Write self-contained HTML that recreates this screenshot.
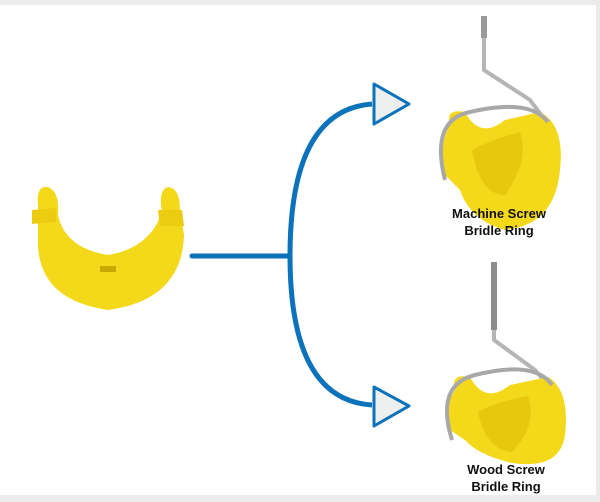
<!DOCTYPE html>
<html><head><style>
html,body{margin:0;padding:0;background:#fff;}
svg{display:block;}
text{font-family:"Liberation Sans",sans-serif;font-weight:bold;font-size:13px;fill:#111;}
</style></head><body>
<svg width="600" height="502" viewBox="0 0 600 502" xmlns="http://www.w3.org/2000/svg">
<rect width="600" height="502" fill="#fff"/>
<rect x="0" y="0" width="600" height="5" fill="#ececec"/>
<rect x="0" y="495" width="600" height="7" fill="#ececec"/>
<rect x="596" y="0" width="4" height="502" fill="#ececec"/>
<!-- left clip -->
<path d="M38,205 Q36,185 48,187 Q60,192 58,215 Q65,248 108,255 Q150,248 162,212 Q158,190 168,187 Q180,188 180,210 L184,235 Q182,300 108,310 Q40,300 38,245 Z" fill="#f4d81a"/>
<path d="M32,210 L56,208 L56,222 L32,224 Z M158,210 L182,210 L184,226 L160,226 Z" fill="#eccc10"/>
<rect x="100" y="266" width="16" height="6" fill="#c9a800"/>
<!-- connector -->
<path d="M192,256 L290,256" stroke="#0b72bb" stroke-width="5" fill="none" stroke-linecap="round"/>
<path d="M372,104 Q290,110 290,256 Q290,400 372,405" stroke="#0b72bb" stroke-width="5" fill="none"/>
<path d="M374,84 L409,104 L374,124 Z" fill="#eef0f0" stroke="#0b72bb" stroke-width="3" stroke-linejoin="round"/>
<path d="M374,387 L409,406 L374,426 Z" fill="#eef0f0" stroke="#0b72bb" stroke-width="3" stroke-linejoin="round"/>
<!-- top ring -->
<path d="M484,16 L484,70 L530,100 L545,120" stroke="#b5b5b5" stroke-width="4" fill="none"/>
<rect x="481" y="16" width="6" height="22" fill="#9a9a9a"/>
<path d="M450,125 Q445,108 465,112 Q480,140 505,120 L540,112 Q565,125 560,170 Q555,225 505,230 Q470,220 460,190 L445,175 Q438,145 450,125 Z" fill="#f4d81a"/>
<path d="M472,150 Q490,140 520,132 Q530,160 505,195 Q480,195 472,150 Z" fill="#e8c80c"/>
<path d="M445,180 Q430,120 470,112 Q530,98 548,122" stroke="#a8a8a8" stroke-width="4" fill="none"/>
<!-- bottom ring -->
<path d="M494,268 L494,340 L535,370 L552,390" stroke="#b5b5b5" stroke-width="4" fill="none"/>
<path d="M494,262 L494,330" stroke="#8c8c8c" stroke-width="6" fill="none"/>
<path d="M455,390 Q450,373 470,377 Q485,405 510,385 L548,377 Q570,390 565,435 Q560,470 512,463 Q478,455 465,440 L450,430 Q442,410 455,390 Z" fill="#f4d81a"/>
<path d="M478,412 Q495,402 528,396 Q538,425 512,452 Q486,450 478,412 Z" fill="#e8c80c"/>
<path d="M452,440 Q435,385 475,375 Q535,360 552,385" stroke="#a8a8a8" stroke-width="4" fill="none"/>
<text x="499" y="218" text-anchor="middle">Machine Screw</text>
<text x="499" y="235" text-anchor="middle">Bridle Ring</text>
<text x="506" y="474" text-anchor="middle">Wood Screw</text>
<text x="506" y="491" text-anchor="middle">Bridle Ring</text>
</svg>
</body></html>
